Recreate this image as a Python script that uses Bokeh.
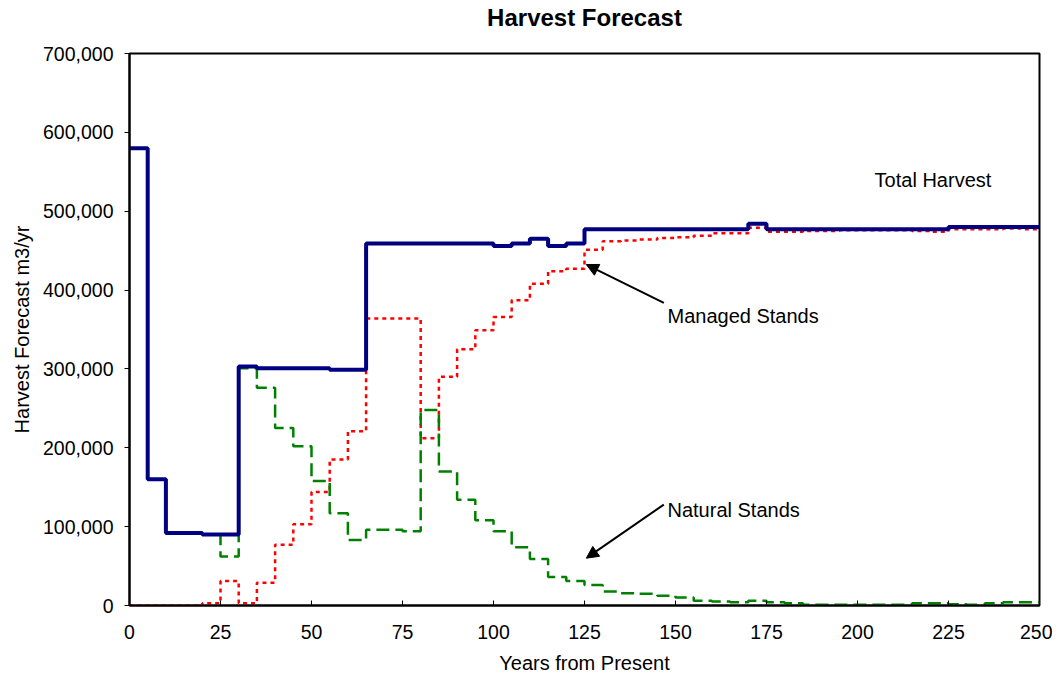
from bokeh.plotting import figure
from bokeh.models import Range1d, NumeralTickFormatter, FixedTicker, Label, Arrow, NormalHead, Title
from bokeh.embed import file_html
from bokeh.resources import INLINE

# ---- data (5-year periods, value holds until next period) ----
years = list(range(0, 250, 5))
end_year = 250

total_harvest = [
    580000, 160000, 92000, 92000, 90000, 90000, 303000, 301000, 301000, 301000,
    301000, 299000, 299000, 459000, 459000, 459000, 459000, 459000, 459000, 459000,
    456000, 459000, 465000, 456000, 459000, 477000, 477000, 477000, 477000, 477000,
    477000, 477000, 477000, 477000, 484000, 477000, 477000, 477000, 477000, 477000,
    477000, 477000, 477000, 477000, 477000, 480000, 480000, 480000, 480000, 480000,
]

managed_stands = [
    0, 0, 0, 0, 3000, 31000, 3000, 29000, 77000, 103000,
    144000, 185000, 221000, 364000, 364000, 364000, 212000, 290000, 325000, 349000,
    366000, 387000, 408000, 424000, 427000, 451000, 462000, 463000, 464000, 466000,
    467000, 469000, 472000, 472000, 479000, 474000, 474000, 475000, 475000, 476000,
    476000, 476000, 476000, 475000, 474000, 477000, 477000, 477000, 478000, 477000,
]

natural_stands = [
    580000, 160000, 92000, 92000, 90000, 62000, 301000, 276000, 225000, 202000,
    158000, 117000, 83000, 96000, 96000, 94000, 248000, 170000, 134000, 108000,
    94000, 74000, 59000, 36000, 31000, 26000, 17700, 15600, 15000, 12300,
    10000, 6000, 5000, 4000, 6000, 4000, 3000, 1000, 1000, 1000,
    1000, 1000, 1000, 3000, 3000, 1500, 1000, 3000, 4000, 4000,
]

x_ticks = [0, 25, 50, 75, 100, 125, 150, 175, 200, 225, 250]
y_ticks = [0, 100000, 200000, 300000, 400000, 500000, 600000, 700000]

FONT = "Liberation Sans"

def stepped(vals):
    return years + [end_year], vals + [vals[-1]]

p = figure(
    frame_width=910, frame_height=552,
    min_border_left=129, min_border_right=13, min_border_top=53, min_border_bottom=71,
    x_range=Range1d(0, 250), y_range=Range1d(0, 700000),
    output_backend="svg", toolbar_location=None,
    title=None,
)
p.background_fill_color = "white"
p.border_fill_color = "white"
p.xgrid.visible = False
p.ygrid.visible = False
p.outline_line_color = "black"
p.outline_line_width = 2
p.outline_line_alpha = 1

# spacer between frame and title, then the title itself (stacked outward)
p.add_layout(Title(text=" ", text_font=FONT, text_font_size="10px", standoff=8), "above")
p.add_layout(Title(text="Harvest Forecast", align="center", vertical_align="top",
                   text_font=FONT, text_font_size="24px", text_font_style="bold",
                   text_color="black", standoff=0), "above")

# axes
p.xaxis.ticker = FixedTicker(ticks=x_ticks)
p.yaxis.ticker = FixedTicker(ticks=y_ticks)
p.yaxis.formatter = NumeralTickFormatter(format="0,0")
for ax in (p.xaxis[0], p.yaxis[0]):
    ax.axis_line_color = "black"
    ax.axis_line_width = 2
    ax.major_tick_line_color = "black"
    ax.major_tick_line_width = 1
    ax.minor_tick_line_color = None
    ax.major_label_text_font = FONT
    ax.major_label_text_font_size = "19.5px"
    ax.major_label_text_color = "black"
    ax.axis_label_text_font = FONT
    ax.axis_label_text_font_size = "20px"
    ax.axis_label_text_font_style = "normal"
    ax.axis_label_text_color = "black"

p.xaxis.major_tick_in = 5
p.xaxis.major_tick_out = 0
p.xaxis.major_label_standoff = 19
p.xaxis.axis_label = "Years from Present"
p.xaxis.axis_label_standoff = 10

p.yaxis.major_tick_in = 0
p.yaxis.major_tick_out = 5
p.yaxis.major_label_standoff = 11
p.yaxis.axis_label = "Harvest Forecast m3/yr"
p.yaxis.axis_label_standoff = 7

# series
xm, ym = stepped(managed_stands)
p.step(xm, ym, mode="after", line_color="#FF0000", line_width=2.5, line_dash="4 4")
xn, yn = stepped(natural_stands)
p.step(xn, yn, mode="after", line_color="#008000", line_width=2.5, line_dash="13 6")
xt, yt = stepped(total_harvest)
p.step(xt, yt, mode="after", line_color="#000080", line_width=4)

# annotations
def lab(x, y, t):
    p.add_layout(Label(x=x, y=y, text=t, text_font=FONT, text_font_size="20px",
                       text_color="black", text_baseline="alphabetic", text_align="left"))

lab(204.7, 539000, "Total Harvest")
lab(147.8, 367700, "Managed Stands")
lab(147.8, 121300, "Natural Stands")

p.add_layout(Arrow(end=NormalHead(size=12, fill_color="black", line_color="black"),
                   x_start=146.8, y_start=383800, x_end=125.5, y_end=432400,
                   line_color="black", line_width=2))
p.add_layout(Arrow(end=NormalHead(size=12, fill_color="black", line_color="black"),
                   x_start=146.8, y_start=128000, x_end=125.5, y_end=60000,
                   line_color="black", line_width=2))

open("out.html", "w").write(file_html(p, INLINE))
